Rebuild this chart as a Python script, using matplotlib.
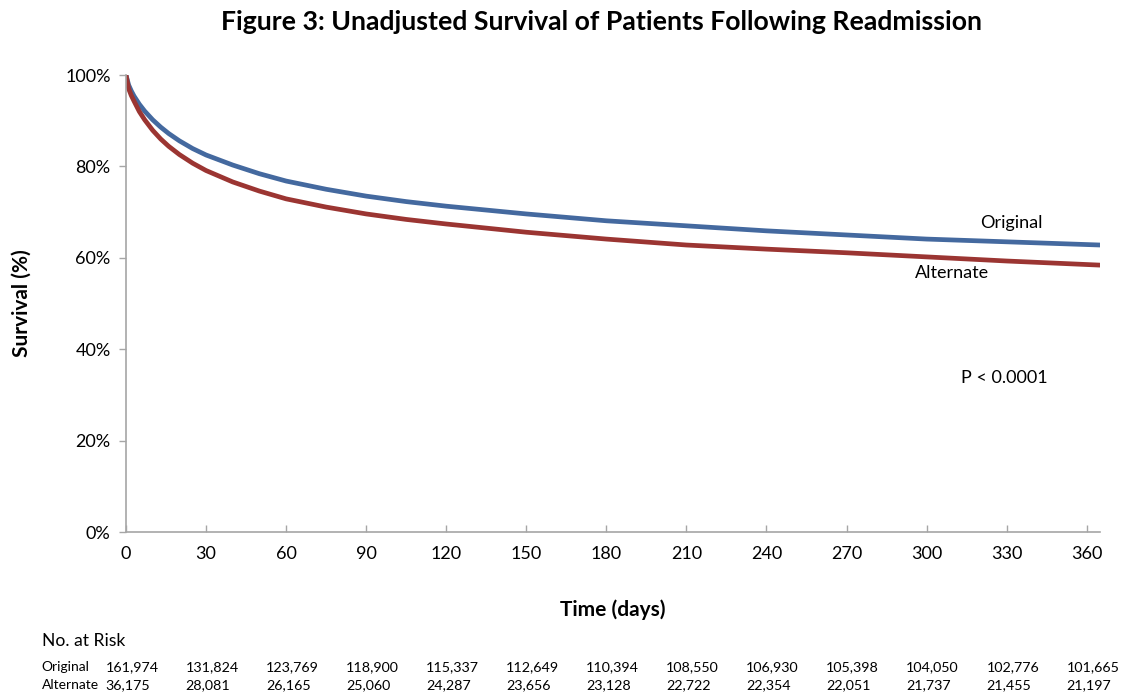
"""
Kaplan-Meier style survival curves after readmission, with a number-at-risk table.
"""

import matplotlib.pyplot as plt
from matplotlib.ticker import PercentFormatter

# Survival (%) at a set of days
days = [0, 1, 2, 3, 5, 7, 10, 13, 16, 20, 25, 30, 40, 50, 60, 75, 90, 105,
        120, 150, 180, 210, 240, 270, 300, 330, 365]
surv_original = [100.0, 97.8, 96.5, 95.4, 93.6, 92.1, 90.2, 88.6, 87.2, 85.6,
                 83.9, 82.5, 80.3, 78.4, 76.8, 75.0, 73.5, 72.3, 71.3, 69.6,
                 68.1, 67.0, 65.9, 65.0, 64.1, 63.5, 62.8]
surv_alternate = [100.0, 97.0, 95.5, 94.3, 92.0, 90.2, 87.9, 86.0, 84.4, 82.6,
                  80.7, 79.1, 76.6, 74.6, 72.9, 71.1, 69.6, 68.4, 67.4, 65.6,
                  64.1, 62.8, 61.9, 61.1, 60.2, 59.3, 58.4]

risk_days = [0, 30, 60, 90, 120, 150, 180, 210, 240, 270, 300, 330, 360]
risk_original = ['161,974', '131,824', '123,769', '118,900', '115,337', '112,649',
                 '110,394', '108,550', '106,930', '105,398', '104,050', '102,776',
                 '101,665']
risk_alternate = ['36,175', '28,081', '26,165', '25,060', '24,287', '23,656',
                  '23,128', '22,722', '22,354', '22,051', '21,737', '21,455',
                  '21,197']

BLUE = '#44699f'
RED = '#9b3532'
GRAY = '#a6a6a6'

plt.rcParams['font.family'] = ['Lato', 'DejaVu Sans']

fig = plt.figure(figsize=(11.3, 6.92), dpi=100)
ax = fig.add_axes([0.1115, 0.2312, 0.862, 0.6604])

ax.plot(days, surv_original, color=BLUE, linewidth=3.4, solid_capstyle='butt')
ax.plot(days, surv_alternate, color=RED, linewidth=3.4, solid_capstyle='butt')

ax.set_xlim(0, 365)
ax.set_ylim(0, 100)
ax.set_xticks(range(0, 361, 30))
ax.set_yticks(range(0, 101, 20))
ax.yaxis.set_major_formatter(PercentFormatter(decimals=0))
ax.tick_params(axis='both', labelsize=13, color=GRAY, length=5, width=1)
ax.tick_params(axis='x', direction='in', pad=10)
ax.tick_params(axis='y', direction='out', pad=6)

for side in ('top', 'right'):
    ax.spines[side].set_visible(False)
for side in ('left', 'bottom'):
    ax.spines[side].set_color(GRAY)
    ax.spines[side].set_linewidth(1.2)

ax.set_xlabel('Time (days)', fontsize=15, fontweight='bold', labelpad=27)
ax.set_ylabel('Survival (%)', fontsize=15, fontweight='bold', labelpad=24)

ax.text(331.9, 67.6, 'Original', ha='center', va='center', fontsize=13)
ax.text(309.4, 56.7, 'Alternate', ha='center', va='center', fontsize=13)
ax.text(329.3, 33.7, 'P < 0.0001', ha='center', va='center', fontsize=13)

fig.suptitle('Figure 3: Unadjusted Survival of Patients Following Readmission',
             x=0.532, y=0.985, fontsize=19.2, fontweight='bold')

# Number at risk table below the axes
trans = ax.get_xaxis_transform()
fig.text(0.037, 0.073, 'No. at Risk', ha='left', va='center', fontsize=12.6)
fig.text(0.037, 0.036, 'Original', ha='left', va='center', fontsize=10)
fig.text(0.037, 0.010, 'Alternate', ha='left', va='center', fontsize=10)
for d, o, a in zip(risk_days, risk_original, risk_alternate):
    ax.text(d - 7.6, -0.2956, o, ha='left', va='center', fontsize=10.3,
            transform=trans, clip_on=False)
    ax.text(d - 7.6, -0.3348, a, ha='left', va='center', fontsize=10.3,
            transform=trans, clip_on=False)

fig.savefig('out.png', dpi=100, facecolor='white')
